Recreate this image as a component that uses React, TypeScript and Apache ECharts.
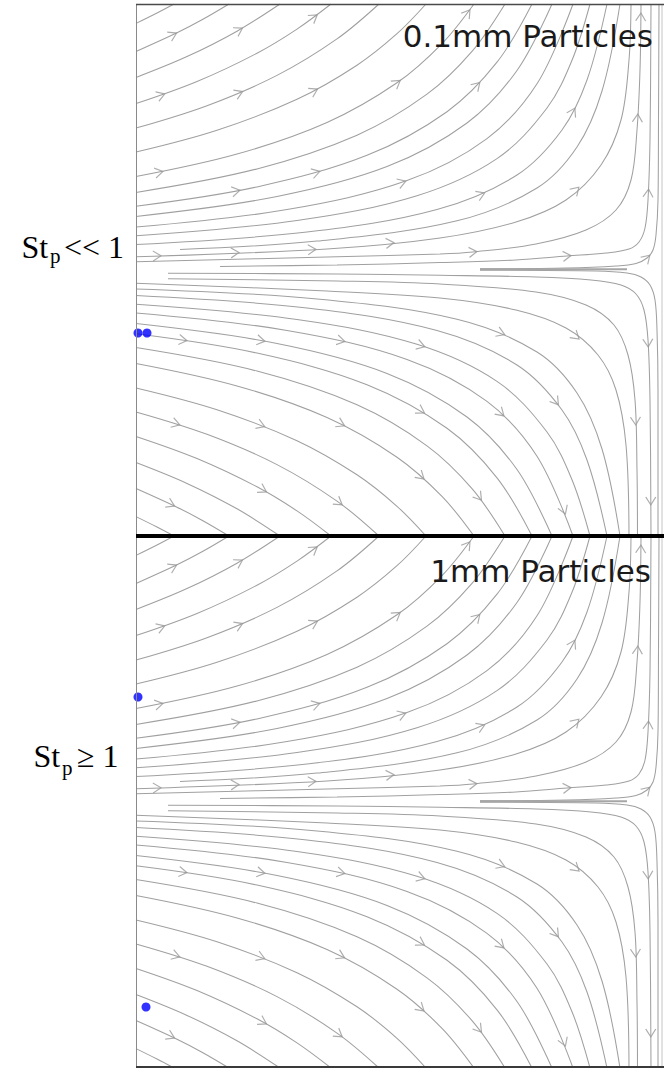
import React, { useEffect, useRef } from 'react';
import * as echarts from 'echarts';

// Streamlines: [x, y] points (x from left edge, y from the centre line, up is +)
const upperLines: number[][][] = [
  [[0, 246.6], [21, 257], [38, 266]],
  [[0, 218.5], [41, 237.2], [66, 250.2], [93, 266]],
  [[0, 192.5], [51, 213.4], [101, 238.8], [144, 266]],
  [[0, 166.4], [61, 188.5], [121, 216.8], [161, 240.9], [195, 266]],
  [[0, 141.9], [71, 164.3], [141, 194.6], [201, 231.1], [243, 266]],
  [[0, 117.9], [81, 139.7], [161, 170.7], [221, 204.8], [261, 236.3], [290, 266]],
  [[0, 93.4], [101, 115.9], [191, 147.5], [261, 187.2], [306, 226.4], [338, 266]],
  [[0, 77.6], [121, 101.1], [221, 134.8], [291, 175.8], [336, 218.6], [369, 266]],
  [[0, 63.8], [121, 83.1], [231, 114.7], [311, 158.3], [361, 207.8], [396, 266]],
  [[0, 53.6], [141, 73.5], [251, 103.4], [331, 147], [381, 199.5], [416, 266]],
  [[0, 42.9], [151, 60.4], [271, 89.4], [351, 131.4], [401, 186.2], [437, 266]],
  [[0, 34.2], [161, 49.5], [281, 74.3], [361, 111.4], [411, 162], [436, 209.7], [454, 266]],
  [[0, 25.5], [171, 38], [301, 60.5], [381, 95], [426, 140], [451, 190], [471, 266]],
  [[44, 20.6], [181, 28.9], [321, 49.2], [401, 82], [441, 123], [466, 179], [484, 266]],
  [[0, 13.3], [191, 21], [304, 32], [380, 48], [430, 70], [465, 105], [485, 150], [493, 210], [495, 266]],
  [[0, 8.2], [201, 13.3], [304, 16], [337, 18], [400, 26], [450, 40], [480, 60], [495, 90], [501, 140], [504, 200], [505, 266]],
  [[84, 3.6], [201, 5], [304, 7.4], [380, 10], [431, 14], [470, 17], [493, 21], [503, 28], [509, 42], [512, 70], [514, 130], [515, 266]],
  [[344, 1.2], [430, 2], [480, 4], [500, 6.5], [511, 12], [517, 20], [520, 35], [522, 70], [522.5, 150], [523, 266]],
];

const lowerLines: number[][][] = [
  [[0, -246.6], [21, -257], [38, -266]],
  [[0, -218.5], [41, -237.2], [66, -250.2], [93, -266]],
  [[0, -192.5], [51, -213.4], [101, -238.8], [144, -266]],
  [[0, -166.4], [61, -188.5], [121, -216.8], [161, -240.9], [195, -266]],
  [[0, -141.9], [71, -164.3], [141, -194.6], [201, -231.1], [243, -266]],
  [[0, -117.9], [81, -139.7], [161, -170.7], [221, -204.8], [261, -236.3], [290, -266]],
  [[0, -93.4], [101, -115.9], [191, -147.5], [261, -187.2], [306, -226.4], [338, -266]],
  [[0, -77.6], [121, -101.1], [221, -134.8], [291, -175.8], [336, -218.6], [369, -266]],
  [[0, -63.8], [121, -83.1], [231, -114.7], [311, -158.3], [361, -207.8], [396, -266]],
  [[0, -53.6], [141, -73.5], [251, -103.4], [331, -147], [381, -199.5], [416, -266]],
  [[0, -42.9], [151, -60.4], [271, -89.4], [351, -131.4], [401, -186.2], [437, -266]],
  [[0, -34.2], [161, -49.5], [281, -74.3], [361, -111.4], [411, -162], [436, -209.7], [454, -266]],
  [[0, -25.5], [171, -38], [301, -60.5], [381, -95], [426, -140], [451, -190], [471, -266]],
  [[0, -18.9], [181, -28.9], [321, -49.2], [401, -82], [441, -123], [466, -179], [484, -266]],
  [[0, -13.3], [191, -21], [304, -28], [380, -40], [430, -58], [462, -85], [480, -120], [490, -175], [493, -266]],
  [[32, -8.7], [201, -11], [304, -14], [400, -22], [450, -35], [478, -55], [492, -85], [499, -130], [501, -200], [501.5, -266]],
  [[32, -3.3], [201, -4], [304, -5.3], [400, -7], [455, -10], [485, -15], [500, -24], [508, -40], [512, -70], [514, -130], [515, -266]],
  [[344, -0.3], [460, -1], [491, -3], [505, -7], [514, -15], [519, -30], [521, -60], [522, -120], [522, -266]],
];

const centreSegment: number[][] = [[344, 0.8], [491, 0.8]];

// Arrow heads: [x, y, direction in degrees]
const upperArrows: number[][] = [
  [37, 235.2, 25.9], [103, 239.9, 29.9], [178, 252.8, 36.4], [331.6, 257, 53.6], [504.8, 253, 88],
  [25, 174.8, 19.4], [103, 176.9, 22.9], [178, 179.1, 27.6], [261, 187.2, 35.8], [341, 184.7, 45.7], [437, 158.3, 62], [501.6, 152, 87],
  [23, 97.7, 11.1], [180, 97.5, 15.9],
  [100, 79, 10.6], [266, 87.6, 19], [345, 75.6, 23.2], [440, 80, 45], [512.3, 77, 86],
  [21, 14.1, 2], [99, 17.3, 2.3], [176, 20.4, 2.8], [254, 27, 5.6], [337, 18, 6], [431, 14, 5.5], [511, 12, 45],
];

const lowerArrows: number[][] = [
  [47, -70.1, -8.4], [125, -70.5, -10.1], [205, -70.7, -12.6], [285, -75.5, -17.8], [365, -63.1, -22], [440, -66.4, -40], [512, -73, -87],
  [40, -153.7, -17.7], [125, -155.2, -21.4], [205, -154, -26], [285, -140.9, -30.8], [365, -143.2, -42.6], [420, -131.7, -52.5], [499.6, -151, -88],
  [35, -234.3, -25.7], [127, -220, -29.2], [203, -232.5, -36.2], [285, -206.3, -41.2], [343, -227, -51.9], [428, -240.3, -68.8], [514.8, -231, -89.5],
];

const particleDots: number[][][] = [
  [[2, -63], [11, -63]],
  [[2, 105], [10, -205]],
];

const panelTitles = ['0.1mm Particles', '1mm Particles'];
const stokesLabels = [
  ['St', 'p', '<< 1'],
  ['St', 'p', '≥ 1'],
];

const LINE_COLOR = '#a0a0a0';

export default function App() {
  const ref = useRef<HTMLDivElement>(null);

  useEffect(() => {
    const chart = echarts.init(ref.current as HTMLDivElement, null, { renderer: 'svg' });

    const panels = [
      { top: 4, height: 532, yMin: -266, yMax: 266 },
      { top: 536, height: 531, yMin: -265, yMax: 266 },
    ];

    const series: any[] = [];
    panels.forEach((_, p) => {
      [...upperLines, ...lowerLines].forEach((pts) => {
        series.push({
          type: 'line',
          xAxisIndex: p,
          yAxisIndex: p,
          data: pts,
          showSymbol: false,
          smooth: 0.35,
          silent: true,
          lineStyle: { color: LINE_COLOR, width: 1.05 },
          z: 2,
        });
      });
      series.push({
        type: 'line',
        xAxisIndex: p,
        yAxisIndex: p,
        data: centreSegment,
        showSymbol: false,
        silent: true,
        lineStyle: { color: '#a6a6a6', width: 2 },
        z: 2,
      });
      series.push({
        type: 'scatter',
        xAxisIndex: p,
        yAxisIndex: p,
        silent: true,
        symbol: 'path://M0,0L10,5L0,10',
        symbolSize: [8, 10],
        itemStyle: { color: 'rgba(0,0,0,0)', borderColor: '#999999', borderWidth: 1.1 },
        data: [...upperArrows, ...lowerArrows].map((a) => ({ value: [a[0], a[1]], symbolRotate: a[2] })),
        z: 3,
      });
      series.push({
        type: 'scatter',
        xAxisIndex: p,
        yAxisIndex: p,
        silent: true,
        symbol: 'circle',
        symbolSize: 9,
        itemStyle: { color: '#0000ff' },
        data: particleDots[p],
        z: 5,
      });
    });

    const serif = '"Liberation Serif", "Times New Roman", serif';
    const sans = '"DejaVu Sans", Verdana, sans-serif';
    const txt = (text: string, x: number, y: number, size: number, family: string, align = 'left', fill = '#000') => ({
      type: 'text',
      x,
      y,
      z: 50,
      silent: true,
      style: {
        text,
        fontSize: size,
        fontFamily: family,
        fill,
        align,
        textAlign: align,
        verticalAlign: 'middle',
        textVerticalAlign: 'middle',
      },
    });

    const graphic: any[] = [
      { type: 'line', z: 40, silent: true, shape: { x1: 136.5, y1: 4, x2: 136.5, y2: 1067 }, style: { stroke: '#8a8a8a', lineWidth: 1 } },
      { type: 'line', z: 40, silent: true, shape: { x1: 662, y1: 4, x2: 662, y2: 1067 }, style: { stroke: '#c4c4c4', lineWidth: 1 } },
      { type: 'line', z: 40, silent: true, shape: { x1: 136, y1: 4.5, x2: 664, y2: 4.5 }, style: { stroke: '#4a4a4a', lineWidth: 1.5 } },
      { type: 'line', z: 40, silent: true, shape: { x1: 136, y1: 1067, x2: 664, y2: 1067 }, style: { stroke: '#3a3a3a', lineWidth: 2 } },
      { type: 'line', z: 40, silent: true, shape: { x1: 136, y1: 536, x2: 664, y2: 536 }, style: { stroke: '#000', lineWidth: 4 } },
      txt(panelTitles[0], 653, 36.3, 31, sans, 'right', '#1a1a1a'),
      txt(panelTitles[1], 651, 570.8, 31, sans, 'right', '#1a1a1a'),
      txt(stokesLabels[0][0], 21.5, 246.5, 32, serif),
      txt(stokesLabels[0][1], 50, 256, 21, serif),
      txt(stokesLabels[0][2], 64, 246.5, 32, serif),
      txt(stokesLabels[1][0], 33.5, 756, 32, serif),
      txt(stokesLabels[1][1], 62, 768, 21, serif),
      txt(stokesLabels[1][2], 77, 756, 32, serif),
    ];

    chart.setOption({
      animation: false,
      backgroundColor: '#ffffff',
      grid: panels.map((pn) => ({ left: 136, top: pn.top, width: 526, height: pn.height, show: false })),
      xAxis: panels.map((_, i) => ({ type: 'value', gridIndex: i, min: 0, max: 526, show: false })),
      yAxis: panels.map((pn, i) => ({ type: 'value', gridIndex: i, min: pn.yMin, max: pn.yMax, show: false })),
      series,
      graphic,
    });

    return () => chart.dispose();
  }, []);

  return (
    <div
      ref={ref}
      style={{ position: 'absolute', left: 0, top: 0, width: 664, height: 1070, background: '#fff' }}
    />
  );
}
